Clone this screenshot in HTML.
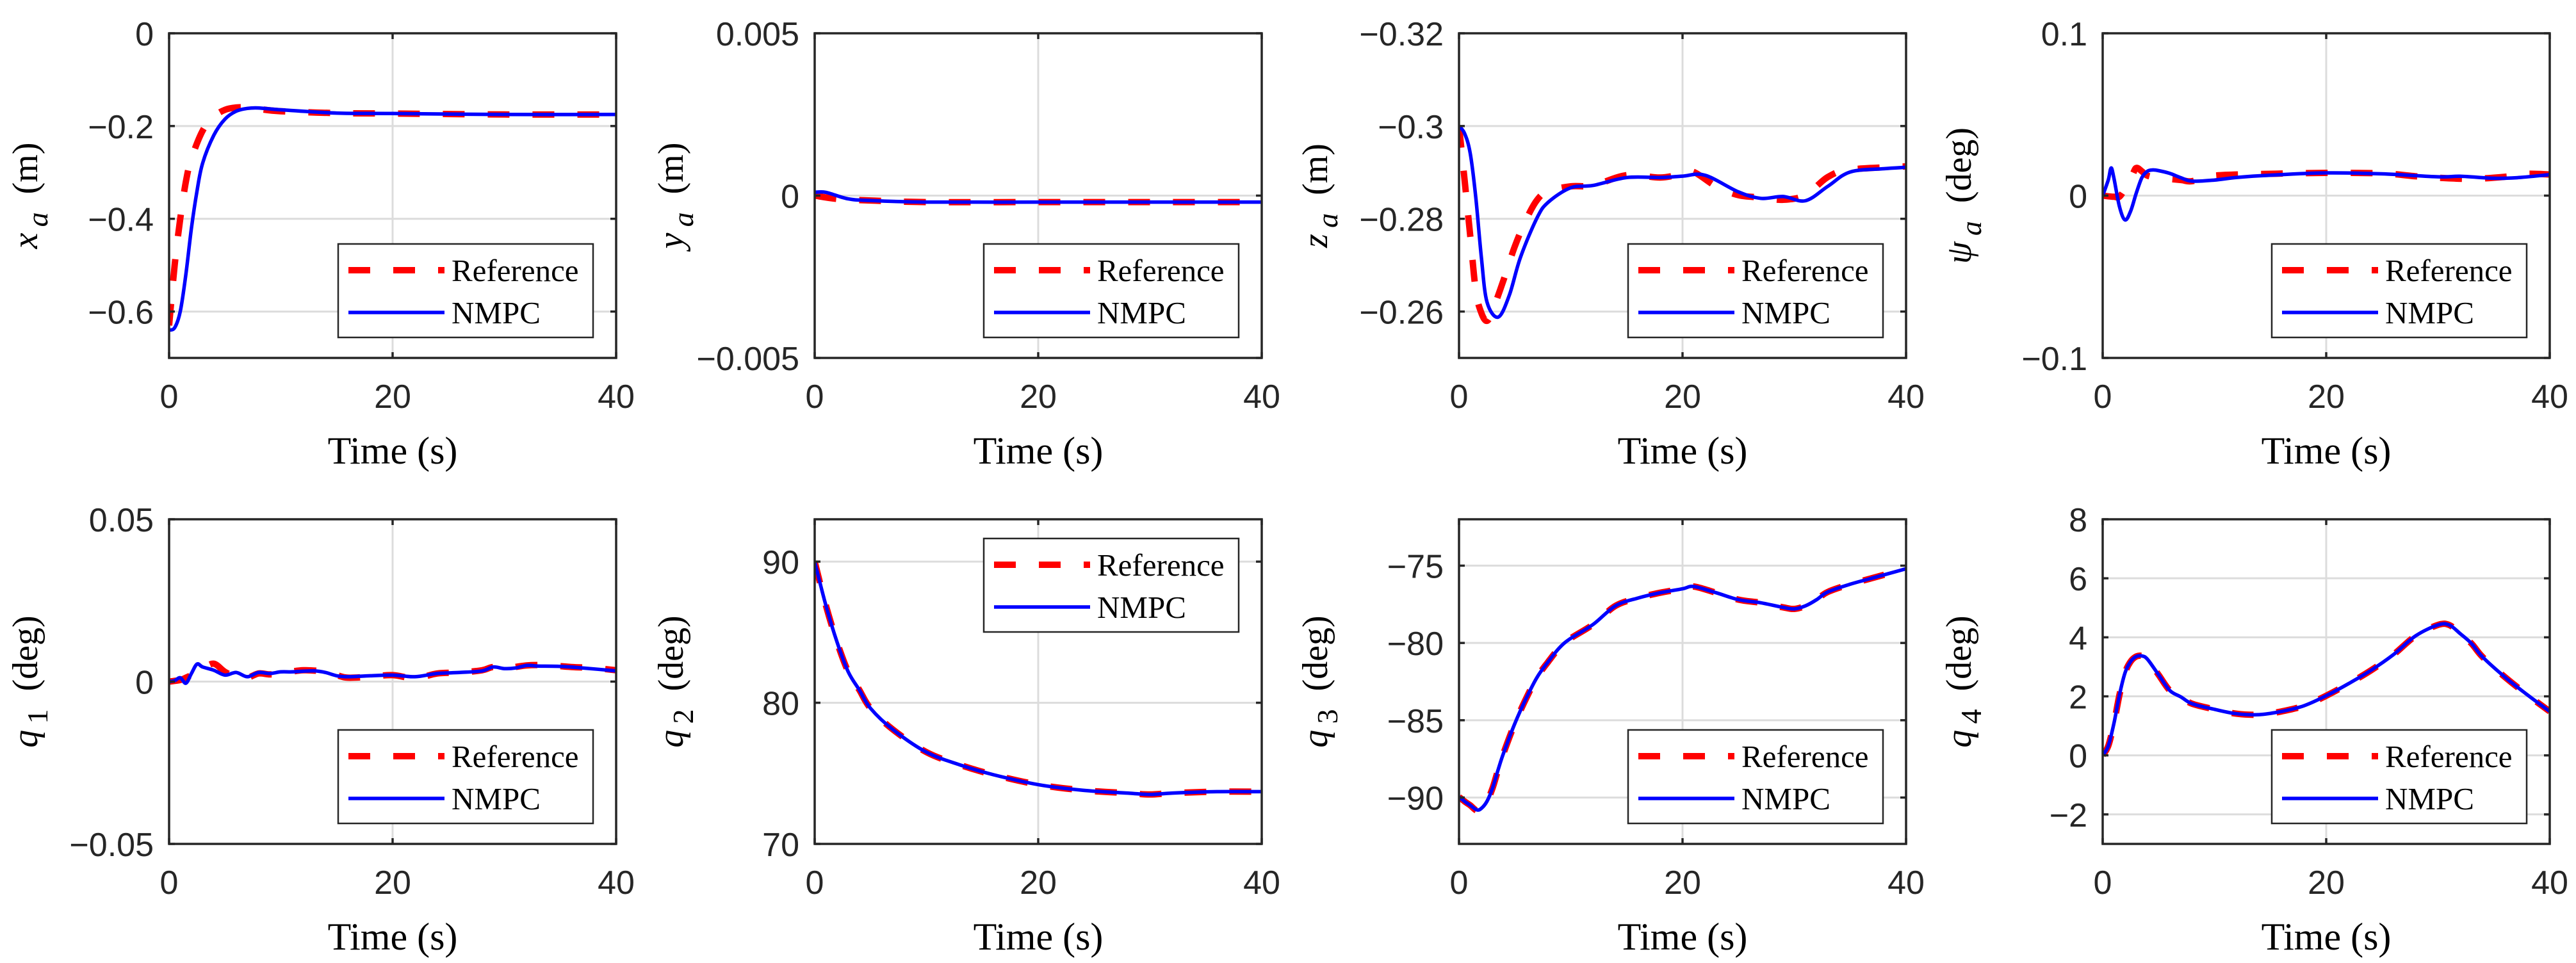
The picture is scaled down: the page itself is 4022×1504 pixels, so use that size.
<!DOCTYPE html>
<html><head><meta charset="utf-8"><style>
html,body{margin:0;padding:0;background:#fff;}
svg{display:block;}
</style></head><body>
<svg id="fig" width="4022" height="1504" viewBox="0 0 4022 1504" xmlns="http://www.w3.org/2000/svg"></svg>
<script>
// ---------- DATA ----------
const timeTicks = [0, 20, 40];
// x_a
const xaRefT = [0,0.5,1,1.5,2,3,4,5,6,7,8,10,15,20,30,40];
const xaRef  = [-0.63,-0.5,-0.4,-0.32,-0.27,-0.21,-0.18,-0.165,-0.16,-0.16,-0.163,-0.168,-0.172,-0.173,-0.175,-0.175];
const xaNmT  = [0,0.5,1,1.5,2,2.5,3,4,5,6,7,8,10,15,20,30,40];
const xaNm   = [-0.64,-0.635,-0.6,-0.52,-0.42,-0.34,-0.28,-0.22,-0.185,-0.168,-0.162,-0.161,-0.165,-0.172,-0.173,-0.175,-0.175];
// y_a
const yaRefT = [0,2,5,10,20,30,40];
const yaRef  = [0.0,-0.0001,-0.00015,-0.0002,-0.0002,-0.0002,-0.0002];
const yaNmT  = [0,1,3,5,10,20,30,40];
const yaNm   = [0.0001,0.0001,-0.0001,-0.00015,-0.0002,-0.0002,-0.0002,-0.0002];
// z_a
const zaRefT = [0,0.5,1,1.5,2,2.5,3,4,5,6,7,8,10,12,15,18,20,21,23,25,27,29,31,33,35,40];
const zaRef  = [-0.300,-0.2884,-0.2765,-0.2645,-0.2597,-0.258,-0.2602,-0.2669,-0.2741,-0.2798,-0.2841,-0.2860,-0.2870,-0.2872,-0.2894,-0.2889,-0.2897,-0.2901,-0.2870,-0.2851,-0.2846,-0.2841,-0.2851,-0.2890,-0.2906,-0.2913];
const zaNmT  = [0,0.5,1,1.5,2,2.5,3.5,4.5,5.5,7,8,10,12,15,18,20,22,25,27,29,31,33,35,38,40];
const zaNm   = [-0.300,-0.2984,-0.2942,-0.2846,-0.2717,-0.2621,-0.2588,-0.2635,-0.2717,-0.2803,-0.2836,-0.2867,-0.2872,-0.2889,-0.2889,-0.2892,-0.2894,-0.2858,-0.2844,-0.2848,-0.2839,-0.2870,-0.2901,-0.2908,-0.2911];
// psi_a
const psRefT = [0,1,1.6,2.6,3,3.5,4,5,7,8,10,15,20,25,28,30,33,36,38,40];
const psRef  = [0,-0.0007,0,0.012,0.017,0.015,0.0123,0.011,0.0096,0.0089,0.0123,0.0134,0.014,0.0137,0.0119,0.0110,0.0103,0.0116,0.0134,0.0130];
const psNmT  = [0,0.5,0.75,1,1.5,2,2.5,3,3.5,4,4.5,5,6,7,8,10,12,15,20,25,30,32,35,37,40];
const psNm   = [0,0.0096,0.017,0.011,-0.0068,-0.015,-0.0096,0.0014,0.011,0.015,0.0158,0.0154,0.0137,0.011,0.0089,0.0096,0.0112,0.0126,0.014,0.0134,0.0116,0.0119,0.0107,0.0110,0.0129];
// q1
const q1RefT = [0,1,1.5,2,3,4,5,6,7,8,9,10,12,14,15,16,18,20,22,24,26,28,29,30,32,34,36,38,40];
const q1Ref  = [0,0.0005,0.0012,0.002,0.004,0.0055,0.003,0.0015,0.0012,0.0025,0.0022,0.0025,0.0035,0.0030,0.002,0.0012,0.0015,0.002,0.001,0.0025,0.0028,0.0035,0.0045,0.0040,0.0050,0.0050,0.0045,0.0042,0.0035];
const q1NmT  = [0,0.5,1,1.5,2,2.5,3,4,5,6,7,8,9,10,11,12,13,14,15,16,18,20,22,24,26,28,29,30,31,32,33,35,37,40];
const q1Nm   = [0,0.0003,0.0012,-0.0005,0.0025,0.0054,0.0045,0.0035,0.002,0.0028,0.0015,0.0028,0.0025,0.003,0.003,0.0032,0.0033,0.0028,0.0018,0.0015,0.0018,0.002,0.0015,0.0025,0.0028,0.0033,0.0045,0.004,0.0042,0.005,0.0048,0.0047,0.0042,0.0033];
// q2
const q2RefT = [0,1,2,3,4,5,7,10,13,16,20,24,28,30,32,36,40];
const q2Ref  = [90,86.9,84.3,82.2,80.9,79.6,78.1,76.5,75.6,74.9,74.2,73.8,73.6,73.5,73.6,73.7,73.7];
const q2NmT  = [0,1,2,3,4,5,7,10,13,16,20,24,28,30,32,36,40];
const q2Nm   = [90,86.9,84.3,82.2,80.9,79.6,78.1,76.5,75.6,74.9,74.2,73.8,73.6,73.5,73.6,73.7,73.7];
// q3
const q3RefT = [0,0.5,1,1.6,2,2.5,3,3.5,4,5,6,7,8,9,10,12,14,16,18,20,21,23,25,27,29,30,31,32,33,35,37,40];
const q3Ref  = [-89.96,-90.25,-90.5,-90.85,-90.7,-90.25,-89.4,-88.2,-87.1,-85.2,-83.6,-82.2,-81.2,-80.3,-79.7,-78.8,-77.6,-77.1,-76.75,-76.5,-76.35,-76.75,-77.2,-77.4,-77.7,-77.8,-77.6,-77.2,-76.7,-76.2,-75.8,-75.2];
const q3NmT  = [0,0.5,1,1.6,2,2.5,3,3.5,4,5,6,7,8,9,10,12,14,16,18,20,21,23,25,27,29,30,31,32,33,35,37,40];
const q3Nm   = [-89.96,-90.25,-90.5,-90.8,-90.7,-90.25,-89.4,-88.2,-87.1,-85.2,-83.6,-82.2,-81.2,-80.3,-79.7,-78.8,-77.6,-77.1,-76.75,-76.5,-76.35,-76.75,-77.2,-77.4,-77.7,-77.8,-77.6,-77.2,-76.7,-76.2,-75.8,-75.2];
// q4
const q4RefT = [0,0.5,1,1.5,2,2.5,3,3.5,4,5,6,7,8,10,12,14,16,18,20,22,24,26,28,30,31,32,33,34,36,38,40];
const q4Ref  = [0,0.32,1.07,2.05,2.8,3.18,3.35,3.37,3.26,2.73,2.2,1.98,1.75,1.56,1.41,1.38,1.49,1.68,2.02,2.43,2.88,3.41,4.05,4.42,4.42,4.12,3.79,3.33,2.65,2.05,1.49];
const q4NmT  = [0,0.5,1,1.5,2,2.5,3,3.5,4,5,6,7,8,10,12,14,16,18,20,22,24,26,28,30,31,32,33,34,36,38,40];
const q4Nm   = [0,0.32,1.07,2.05,2.8,3.18,3.35,3.37,3.26,2.73,2.2,1.98,1.75,1.56,1.41,1.38,1.49,1.68,2.02,2.43,2.88,3.41,4.05,4.42,4.42,4.12,3.79,3.33,2.65,2.05,1.49];
// y tick values/labels
const xaTicks = [-0.6,-0.4,-0.2,0];       const xaTickLabels = ["\u22120.6","\u22120.4","\u22120.2","0"];
const yaTicks = [-0.005,0,0.005];         const yaTickLabels = ["\u22120.005","0","0.005"];
const zaTicks = [-0.32,-0.3,-0.28,-0.26]; const zaTickLabels = ["\u22120.32","\u22120.3","\u22120.28","\u22120.26"];
const psTicks = [-0.1,0,0.1];             const psTickLabels = ["\u22120.1","0","0.1"];
const q1Ticks = [-0.05,0,0.05];           const q1TickLabels = ["\u22120.05","0","0.05"];
const q2Ticks = [70,80,90];               const q2TickLabels = ["70","80","90"];
const q3Ticks = [-90,-85,-80,-75];        const q3TickLabels = ["\u221290","\u221285","\u221280","\u221275"];
const q4Ticks = [-2,0,2,4,6,8];           const q4TickLabels = ["\u22122","0","2","4","6","8"];

// ---------- DRAW ----------
const NS = "http://www.w3.org/2000/svg";
const svg = document.getElementById('fig');
function mk(tag, attrs, parent){ const e=document.createElementNS(NS,tag); for(const k in attrs) e.setAttribute(k,attrs[k]); (parent||svg).appendChild(e); return e; }

const W = 698, H = 507;
const colX = [264, 1272, 2278, 3283];
const rowY = [52, 811];

const panels = [
 {key:'xa', sym:'x', sub:'a', unit:'(m)', col:0,row:0, ymin:-0.7,ymax:0, rev:false, ticks:xaTicks, labels:xaTickLabels, rT:xaRefT,r:xaRef,nT:xaNmT,n:xaNm, legTop:false},
 {key:'ya', sym:'y', sub:'a', unit:'(m)', col:1,row:0, ymin:-0.005,ymax:0.005, rev:false, ticks:yaTicks, labels:yaTickLabels, rT:yaRefT,r:yaRef,nT:yaNmT,n:yaNm, legTop:false},
 {key:'za', sym:'z', sub:'a', unit:'(m)', col:2,row:0, ymin:-0.32,ymax:-0.25, rev:true, ticks:zaTicks, labels:zaTickLabels, rT:zaRefT,r:zaRef,nT:zaNmT,n:zaNm, legTop:false},
 {key:'psi', sym:'\u03C8', sub:'a', unit:'(deg)', col:3,row:0, ymin:-0.1,ymax:0.1, rev:false, ticks:psTicks, labels:psTickLabels, rT:psRefT,r:psRef,nT:psNmT,n:psNm, legTop:false},
 {key:'q1', sym:'q', sub:'1', unit:'(deg)', col:0,row:1, ymin:-0.05,ymax:0.05, rev:false, ticks:q1Ticks, labels:q1TickLabels, rT:q1RefT,r:q1Ref,nT:q1NmT,n:q1Nm, legTop:false},
 {key:'q2', sym:'q', sub:'2', unit:'(deg)', col:1,row:1, ymin:70,ymax:93, rev:false, ticks:q2Ticks, labels:q2TickLabels, rT:q2RefT,r:q2Ref,nT:q2NmT,n:q2Nm, legTop:true},
 {key:'q3', sym:'q', sub:'3', unit:'(deg)', col:2,row:1, ymin:-93,ymax:-72, rev:false, ticks:q3Ticks, labels:q3TickLabels, rT:q3RefT,r:q3Ref,nT:q3NmT,n:q3Nm, legTop:false},
 {key:'q4', sym:'q', sub:'4', unit:'(deg)', col:3,row:1, ymin:-3,ymax:8, rev:false, ticks:q4Ticks, labels:q4TickLabels, rT:q4RefT,r:q4Ref,nT:q4NmT,n:q4Nm, legTop:false},
];

function smoothPath(pts){
  if(pts.length<2) return '';
  let d = 'M'+pts[0][0].toFixed(1)+','+pts[0][1].toFixed(1);
  for(let i=0;i<pts.length-1;i++){
    const p0=pts[Math.max(0,i-1)], p1=pts[i], p2=pts[i+1], p3=pts[Math.min(pts.length-1,i+2)];
    const c1x=p1[0]+(p2[0]-p0[0])/6, c1y=p1[1]+(p2[1]-p0[1])/6;
    const c2x=p2[0]-(p3[0]-p1[0])/6, c2y=p2[1]-(p3[1]-p1[1])/6;
    d+=' C'+c1x.toFixed(1)+','+c1y.toFixed(1)+' '+c2x.toFixed(1)+','+c2y.toFixed(1)+' '+p2[0].toFixed(1)+','+p2[1].toFixed(1);
  }
  return d;
}

panels.forEach(p=>{
  const x0 = colX[p.col], y0 = rowY[p.row];
  const g = mk('g',{});
  
  
  const xs = t => x0 + (t-0)/40*W;
  // reversed axis: top = ymin, bottom = ymax
  const yScale = p.rev ? (v => y0 + (v-p.ymin)/(p.ymax-p.ymin)*H) : (v => y0 + (p.ymax-v)/(p.ymax-p.ymin)*H);

  mk('rect',{x:x0,y:y0,width:W,height:H,fill:'#fff'},g);
  const clipId='clip-'+p.key;
  const cp = mk('clipPath',{id:clipId},g);
  mk('rect',{x:x0,y:y0,width:W,height:H},cp);

  // grid
  timeTicks.forEach(t=>{
    const gl = mk('line',{x1:xs(t),x2:xs(t),y1:y0,y2:y0+H,stroke:'#dcdcdc','stroke-width':3},g);
    
    
  });
  p.ticks.forEach(v=>{
    const gl = mk('line',{x1:x0,x2:x0+W,y1:yScale(v),y2:yScale(v),stroke:'#dcdcdc','stroke-width':3},g);
    
    
  });

  // series
  const cg = mk('g',{'clip-path':'url(#'+clipId+')'},g);
  const rpts = p.rT.map((t,i)=>[xs(t), yScale(p.r[i])]);
  const npts = p.nT.map((t,i)=>[xs(t), yScale(p.n[i])]);
  const rl = mk('path',{d:smoothPath(rpts),fill:'none',stroke:'#ff0000','stroke-width':10,'stroke-dasharray':'34 36'},cg);
  
  
  const nl = mk('path',{d:smoothPath(npts),fill:'none',stroke:'#0000ff','stroke-width':5.5},cg);
  
  

  // box
  mk('rect',{x:x0,y:y0,width:W,height:H,fill:'none',stroke:'#262626','stroke-width':3.5},g);
  // ticks
  timeTicks.forEach(t=>{
    mk('line',{x1:xs(t),x2:xs(t),y1:y0+H,y2:y0+H-9,stroke:'#262626','stroke-width':3.5},g);
    mk('line',{x1:xs(t),x2:xs(t),y1:y0,y2:y0+9,stroke:'#262626','stroke-width':3.5},g);
    const tl = mk('text',{x:xs(t),y:y0+H+78,'text-anchor':'middle','font-family':'"Liberation Sans",Arial,sans-serif','font-size':52,fill:'#262626'},g);
    tl.textContent = String(t);
    
    
  });
  p.ticks.forEach((v,i)=>{
    const y=yScale(v);
    mk('line',{x1:x0,x2:x0+9,y1:y,y2:y,stroke:'#262626','stroke-width':3.5},g);
    mk('line',{x1:x0+W,x2:x0+W-9,y1:y,y2:y,stroke:'#262626','stroke-width':3.5},g);
    const tl = mk('text',{x:x0-24,y:y+19,'text-anchor':'end','font-family':'"Liberation Sans",Arial,sans-serif','font-size':52,fill:'#262626'},g);
    tl.textContent = p.labels[i];
    
    
  });

  // x-axis title
  const xt = mk('text',{x:x0+W/2,y:y0+H+165,'text-anchor':'middle','font-family':'"Liberation Serif","Times New Roman",serif','font-size':60,fill:'#000'},g);
  xt.textContent='Time (s)';
  
  

  // y-axis title
  const lx = x0-206, ly = y0+H/2;
  const yt = mk('text',{transform:'translate('+lx+','+ly+') rotate(-90)','text-anchor':'middle','font-family':'"Liberation Serif","Times New Roman",serif','font-size':56,fill:'#000'},g);
  
  
  yt.setAttribute('xml:space','preserve');
  const s1 = mk('tspan',{'font-style':'italic'},yt); s1.textContent=p.sym;
  const s2 = mk('tspan',{'font-style':p.sub==='a'?'italic':'normal',dy:16,'font-size':46},yt); s2.textContent='\u2009'+p.sub;
  const s3 = mk('tspan',{dy:-16},yt); s3.textContent='\u2002'+p.unit;

  // legend
  const lgx = x0+264, lgy = p.legTop ? y0+30 : y0+H-178, lw=398, lh=146;
  const lg = mk('g',{},g);
  
  
  mk('rect',{x:lgx,y:lgy,width:lw,height:lh,fill:'#fff',stroke:'#262626','stroke-width':2.5},lg);
  const le1 = mk('line',{x1:lgx+16,x2:lgx+166,y1:lgy+41,y2:lgy+41,stroke:'#ff0000','stroke-width':10,'stroke-dasharray':'34 36'},lg);
  
  
  const lt1 = mk('text',{x:lgx+177,y:lgy+58,'font-family':'"Liberation Serif","Times New Roman",serif','font-size':49,fill:'#000'},lg);
  lt1.textContent='Reference';
  
  
  const le2 = mk('line',{x1:lgx+16,x2:lgx+166,y1:lgy+107,y2:lgy+107,stroke:'#0000ff','stroke-width':5.5},lg);
  
  
  const lt2 = mk('text',{x:lgx+177,y:lgy+124,'font-family':'"Liberation Serif","Times New Roman",serif','font-size':49,fill:'#000'},lg);
  lt2.textContent='NMPC';
  
  
});
</script>
</body></html>
